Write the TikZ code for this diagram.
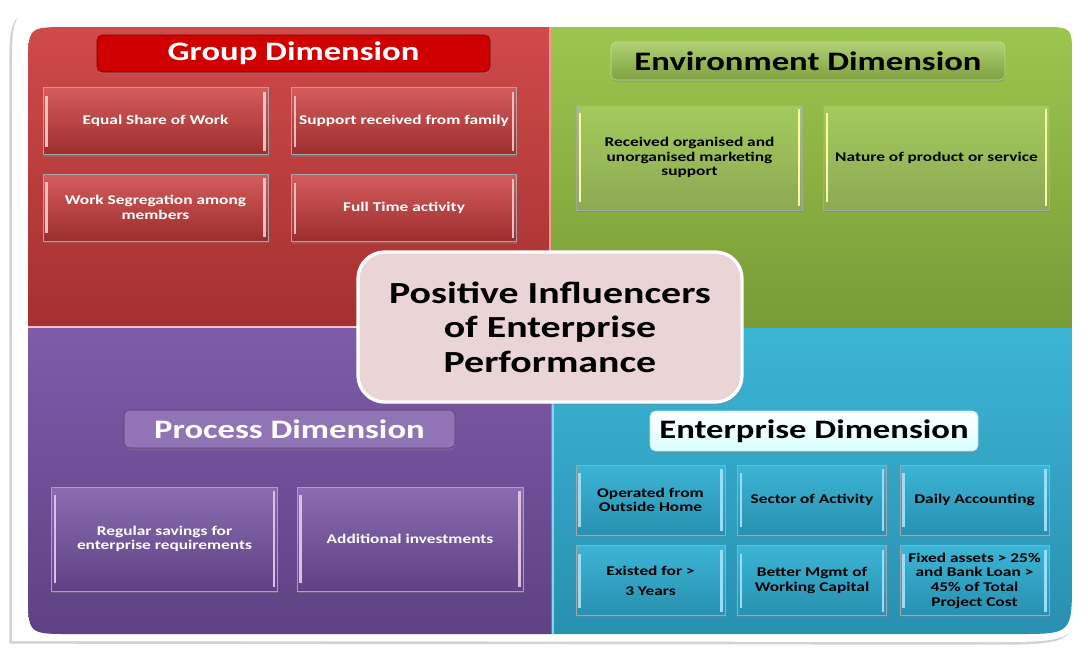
\documentclass[tikz,border=0pt]{standalone}
\usepackage{fontspec}
\setmainfont{Carlito}[FakeStretch=1.3]
\usetikzlibrary{shadows}
\tikzset{>=stealth}

\definecolor{grptop}{HTML}{D04A4A}
\definecolor{grpbot}{HTML}{A53030}
\definecolor{envtop}{HTML}{9CC64E}
\definecolor{envbot}{HTML}{789B36}
\definecolor{protop}{HTML}{7E5CA9}
\definecolor{probot}{HTML}{5E4284}
\definecolor{enttop}{HTML}{3CB5D5}
\definecolor{entbot}{HTML}{2890B0}
\definecolor{midpink}{HTML}{EBD4D6}

\tikzset{
  bevel/.style={path picture={
    \draw[#1,line width=1.8pt] ([xshift=2.5pt,yshift=-6pt]path picture bounding box.north west) -- ([xshift=2.5pt,yshift=6pt]path picture bounding box.south west);
    \draw[#1,line width=1.8pt] ([xshift=-2.5pt,yshift=-3pt]path picture bounding box.north east) -- ([xshift=-2.5pt,yshift=3pt]path picture bounding box.south east);}},
  item/.style={rectangle, draw=black!35, align=center, font=\bfseries\fontsize{10}{11}\selectfont,
    drop shadow={shadow xshift=.5pt, shadow yshift=-1.5pt, opacity=.45}},
  redbox/.style={item, text=white, top color=grptop!90!white, bottom color=grpbot!95!black, bevel=red!25!white,
    minimum width=168.75pt, minimum height=50.25pt},
  greenbox/.style={item, text=black, top color=envtop!92!white, bottom color=envbot!85!white, bevel=yellow!35!white,
    minimum width=169.5pt, minimum height=78.75pt},
  purplebox/.style={item, text=white, top color=protop!90!white, bottom color=probot, bevel=violet!25!white,
    minimum width=169.5pt, minimum height=78pt},
  bluebox/.style={item, text=black, top color=enttop, bottom color=entbot, bevel=cyan!40!white,
    minimum width=111.75pt, minimum height=52.5pt},
  headbox/.style={rectangle, rounded corners=4pt, font=\bfseries\fontsize{20}{24}\selectfont,
    drop shadow={shadow xshift=.5pt, shadow yshift=-1.5pt, opacity=.4}}
}

\begin{document}
\begin{tikzpicture}[x=0.75pt, y=-0.75pt]
\useasboundingbox (0,0) rectangle (1088,651);
% white frame
\fill[white, drop shadow={shadow xshift=-2pt, shadow yshift=-2pt, opacity=.35}]
  (12,641) -- (12,70) .. controls (12,8) .. (74,8) -- (1084,8) -- (1084,550) .. controls (1084,642) .. (992,642) -- cycle;

% four quarters
\begin{scope}
\clip (28,327) -- (28,67) .. controls (28,27) .. (68,27) -- (1042,27) .. controls (1072,27) .. (1072,57)
  -- (1072,579) .. controls (1072,634) .. (1017,634) -- (70,634) .. controls (28,634) .. (28,592) -- cycle;
\shade[top color=grptop, bottom color=grpbot] (28,27) rectangle (550,327);
\shade[top color=envtop, bottom color=envbot] (550,27) rectangle (1072,328);
\shade[top color=protop, bottom color=probot] (28,327) rectangle (551,634);
\shade[top color=enttop, bottom color=entbot] (551,328) rectangle (1072,634);
\draw[red!40!white, line width=1.2pt] (550,27) -- (550,327);
\draw[red!25!white, line width=.8pt] (28,327) -- (550,327);
\draw[cyan!50!white, line width=1.5pt] (553,328) -- (553,634);
\end{scope}

% group dimension
\node[headbox, text=white, fill=red!82!black, draw=red!50!black, minimum width=294.75pt, minimum height=27.75pt] (grptitle) at (293.5,53.5) {Group Dimension};
\node[redbox] (grp1) at (155.5,121) {Equal Share of Work};
\node[redbox] (grp2) at (404,121) {Support received from family};
\node[redbox] (grp3) at (155.5,207.5) {Work Segregation among\\members};
\node[redbox] (grp4) at (404,208) {Full Time activity};

% environment dimension
\node[headbox, text=black, top color=envtop!80!white, bottom color=envbot!95!white, draw=envtop!60!white, minimum width=295.5pt, minimum height=28.5pt] (envtitle) at (808,61) {Environment Dimension};
\node[greenbox] (env1) at (689.5,157.5) {Received organised and\\unorganised marketing\\support};
\node[greenbox] (env2) at (936.5,157.5) {Nature of product or service};

% process dimension
\node[headbox, text=white, fill=protop!85!white, draw=probot!90!black, minimum width=248.25pt, minimum height=28.5pt] (protitle) at (289.5,429) {Process Dimension};
\node[purplebox] (pro1) at (164.5,539) {Regular savings for\\enterprise requirements};
\node[purplebox] (pro2) at (410,539) {Additional investments};

% enterprise dimension
\node[headbox, text=black, top color=white, bottom color=cyan!15!white, draw=cyan!30!white, minimum width=246pt, minimum height=30pt] (enttitle) at (814,431) {Enterprise Dimension};
\node[bluebox] (ent1) at (650.5,500) {Operated from\\Outside Home};
\node[bluebox] (ent2) at (812,500) {Sector of Activity};
\node[bluebox] (ent3) at (974.5,500) {Daily Accounting};
\node[bluebox] (ent4) at (650.5,580.5) {Existed for >\\[4pt]3 Years};
\node[bluebox] (ent5) at (812,580.5) {Better Mgmt of\\Working Capital};
\node[bluebox] (ent6) at (974.5,580.5) {Fixed assets > 25\%\\and Bank Loan >\\45\% of Total\\Project Cost};

% centre
\node[rectangle, rounded corners=20pt, fill=midpink, draw=white, line width=2.5pt, align=center,
  minimum width=288pt, minimum height=112.5pt, font=\bfseries\fontsize{23}{26}\selectfont,
  drop shadow={shadow xshift=1pt, shadow yshift=-2pt, opacity=.4}] (centre) at (550,327)
  {Positive Influencers\\of Enterprise\\Performance};
\end{tikzpicture}
\end{document}
